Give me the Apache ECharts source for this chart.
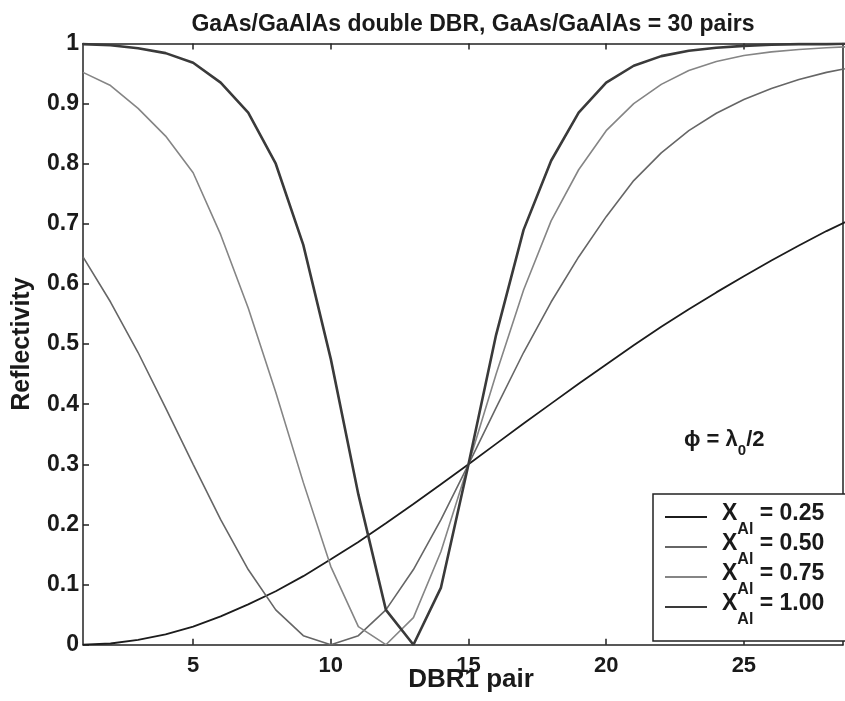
<!DOCTYPE html>
<html>
<head>
<meta charset="utf-8">
<script src="https://cdn.jsdelivr.net/npm/echarts@6/dist/echarts.min.js"></script>
<style>
  html, body { margin: 0; padding: 0; background: #ffffff; }
  #chart { width: 845px; height: 701px; }
</style>
</head>
<body>
<div id="chart"></div>
<script>
// Number of pairs in the first DBR
const pairs = [1, 2, 3, 4, 5, 6, 7, 8, 9, 10, 11, 12, 13, 14, 15, 16, 17, 18, 19, 20,
               21, 22, 23, 24, 25, 26, 27, 28, 29];

// Al mole fraction of each curve
const xAl = ['0.25', '0.50', '0.75', '1.00'];

// Reflectivity of the double DBR for each Al fraction
const r025 = [0.000, 0.002, 0.008, 0.017, 0.030, 0.047, 0.067, 0.089, 0.114, 0.142,
              0.171, 0.202, 0.234, 0.267, 0.300, 0.334, 0.368, 0.401, 0.434, 0.466,
              0.498, 0.529, 0.558, 0.586, 0.613, 0.639, 0.664, 0.688, 0.710];
const r050 = [0.645, 0.570, 0.486, 0.394, 0.300, 0.208, 0.125, 0.058, 0.015, 0.000,
              0.015, 0.058, 0.125, 0.208, 0.300, 0.394, 0.486, 0.570, 0.645, 0.712,
              0.772, 0.818, 0.855, 0.884, 0.907, 0.925, 0.940, 0.952, 0.961];
const r075 = [0.952, 0.930, 0.892, 0.846, 0.785, 0.682, 0.560, 0.420, 0.270, 0.130,
              0.030, 0.000, 0.045, 0.155, 0.300, 0.450, 0.590, 0.705, 0.790, 0.855,
              0.900, 0.932, 0.955, 0.970, 0.980, 0.986, 0.990, 0.993, 0.995];
const r100 = [0.999, 0.997, 0.992, 0.984, 0.968, 0.935, 0.885, 0.800, 0.665, 0.475,
              0.250, 0.058, 0.000, 0.095, 0.300, 0.515, 0.690, 0.805, 0.885, 0.935,
              0.963, 0.979, 0.988, 0.993, 0.996, 0.998, 0.999, 0.999, 1.000];

// Axis ticks
const xTicks = [5, 10, 15, 20, 25];
const yTicks = [0, 0.1, 0.2, 0.3, 0.4, 0.5, 0.6, 0.7, 0.8, 0.9, 1];

const curves = [r025, r050, r075, r100];
const colors = ['#1c1c1c', '#666666', '#858585', '#3a3a3a'];
const widths = [1.8, 1.6, 1.6, 2.6];

const FONT = "'Liberation Sans', Arial, Helvetica, sans-serif";
const INK = '#1a1a1a';

const chart = echarts.init(document.getElementById('chart'), null, { renderer: 'canvas' });

const series = curves.map((vals, k) => ({
  name: 'X_Al = ' + xAl[k],
  type: 'line',
  data: pairs.map((n, i) => [n, vals[i]]),
  symbol: 'none',
  clip: true,
  color: colors[k],
  lineStyle: { color: colors[k], width: widths[k] },
  z: 2 + k
}));

const axisLineStyle = { color: '#222222', width: 1.5 };

chart.setOption({
  animation: false,
  backgroundColor: '#ffffff',
  title: {
    text: 'GaAs/GaAlAs double DBR, GaAs/GaAlAs = 30 pairs',
    left: 468,
    top: 8,
    textAlign: 'center',
    textStyle: { fontFamily: FONT, fontWeight: 'bold', fontSize: 23, color: INK }
  },
  grid: { left: 83, right: 2, top: 43.5, bottom: 56.3, containLabel: false, outerBoundsMode: 'none' },
  legend: {
    orient: 'vertical',
    left: 665,
    top: 502,
    padding: 0,
    itemGap: -6,
    itemWidth: 42,
    itemHeight: 2,
    icon: 'rect',
    selectedMode: false,
    formatter: function (name) {
      const v = name.split('= ')[1];
      return '{x|X}{s|Al}{v| = ' + v + '}';
    },
    textStyle: {
      padding: [0, 0, 0, 10],
      rich: {
        x: { fontFamily: FONT, fontWeight: 'bold', fontSize: 23, color: INK, lineHeight: 30, verticalAlign: 'top' },
        s: { fontFamily: FONT, fontWeight: 'bold', fontSize: 16, color: INK, lineHeight: 16, verticalAlign: 'top', padding: [20, 0, 0, 0] },
        v: { fontFamily: FONT, fontWeight: 'bold', fontSize: 23, color: INK, lineHeight: 30, verticalAlign: 'top' }
      }
    },
    data: series.map(s => s.name)
  },
  graphic: [
    {
      type: 'rect',
      z: 3,
      shape: { x: 653, y: 494, width: 200, height: 147 },
      style: { fill: '#ffffff', stroke: '#222222', lineWidth: 1.5 }
    },
    {
      type: 'text',
      z: 3,
      left: 684,
      top: 429,
      style: {
        text: '{a|ϕ = λ}{s|0}{a|/2}',
        rich: {
          a: { fontFamily: FONT, fontWeight: 'bold', fontSize: 22, fill: INK, lineHeight: 26, verticalAlign: 'top' },
          s: { fontFamily: FONT, fontWeight: 'bold', fontSize: 15, fill: INK, lineHeight: 15, verticalAlign: 'top', padding: [14, 0, 0, 0] }
        }
      }
    }
  ],
  xAxis: [
    {
      type: 'value',
      min: 1,
      max: 28.6,
      name: 'DBR1 pair',
      nameLocation: 'middle',
      nameGap: 22,
      nameMoveOverlap: false,
      nameTextStyle: { fontFamily: FONT, fontWeight: 'bold', fontSize: 26, color: INK, padding: [0, 0, 0, 16] },
      axisLine: { show: true, onZero: false, lineStyle: axisLineStyle },
      axisTick: { show: true, inside: true, length: 6, lineStyle: axisLineStyle, customValues: xTicks },
      axisLabel: { show: true, margin: 10, fontFamily: FONT, fontWeight: 'bold', fontSize: 22, color: INK, customValues: xTicks },
      splitLine: { show: false }
    },
    {
      type: 'value',
      position: 'top',
      min: 1,
      max: 28.6,
      axisLine: { show: true, onZero: false, lineStyle: axisLineStyle },
      axisTick: { show: true, inside: true, length: 6, lineStyle: axisLineStyle, customValues: xTicks },
      axisLabel: { show: false },
      splitLine: { show: false }
    }
  ],
  yAxis: [
    {
      type: 'value',
      min: 0,
      max: 1,
      interval: 0.1,
      name: 'Reflectivity',
      nameLocation: 'middle',
      nameGap: 48,
      nameMoveOverlap: false,
      nameTextStyle: { fontFamily: FONT, fontWeight: 'bold', fontSize: 25, color: INK },
      axisLine: { show: true, onZero: false, lineStyle: axisLineStyle },
      axisTick: { show: true, inside: true, length: 6, lineStyle: axisLineStyle },
      axisLabel: {
        show: true, margin: 4, fontFamily: FONT, fontWeight: 'bold', fontSize: 23, color: INK,
        customValues: yTicks,
        formatter: v => String(Math.round(v * 10) / 10)
      },
      splitLine: { show: false }
    },
    {
      type: 'value',
      position: 'right',
      min: 0,
      max: 1,
      interval: 0.1,
      axisLine: { show: true, onZero: false, lineStyle: axisLineStyle },
      axisTick: { show: false },
      axisLabel: { show: false },
      splitLine: { show: false }
    }
  ],
  series: series
});
</script>
</body>
</html>
